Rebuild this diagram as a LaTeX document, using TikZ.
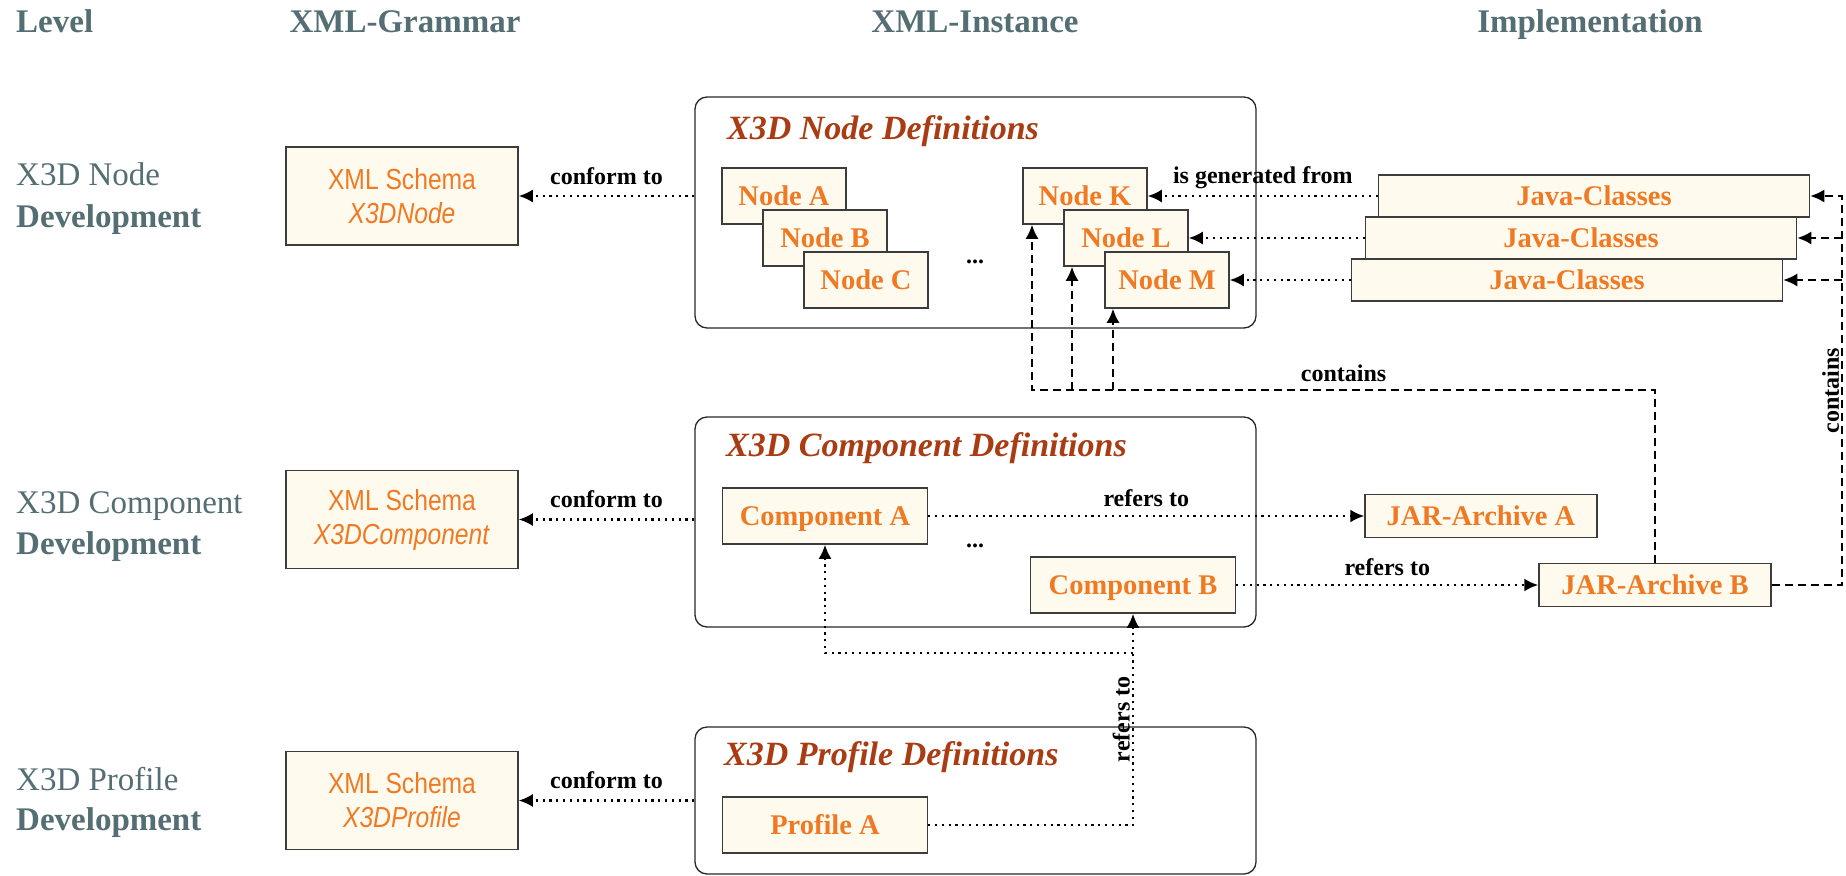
\documentclass[tikz,border=0pt]{standalone}
\usepackage{fontspec}
\setmainfont{Liberation Serif}
\newfontfamily\narrowsans[FakeStretch=0.85]{Liberation Sans}
\usepackage{tikz}
\usetikzlibrary{arrows.meta}

\definecolor{slate}{RGB}{84,110,115}
\definecolor{boxfill}{RGB}{255,250,238}
\definecolor{boxtext}{RGB}{240,122,36}
\definecolor{titlebrown}{RGB}{170,60,20}
\definecolor{boxline}{RGB}{60,60,60}

\tikzset{
	header/.style={text=slate, font=\fontsize{33}{36}\selectfont\bfseries, inner sep=0pt},
	levelname/.style={text=slate, font=\fontsize{33}{36}\selectfont, inner sep=0pt},
	schema/.style={draw=boxline, fill=boxfill, line width=1.5pt, minimum width=232pt, minimum height=98pt, text=boxtext, font=\narrowsans\fontsize{29}{34}\selectfont, align=center, inner sep=0pt},
	itembox/.style={draw=boxline, fill=boxfill, line width=1.5pt, minimum height=56pt, text=boxtext, font=\fontsize{28.5}{30}\selectfont\bfseries, text height=19pt, text depth=0pt, inner sep=0pt},
	groupbox/.style={draw=black!85, line width=1.3pt, rounded corners=12pt, inner sep=0pt},
	grouptitle/.style={text=titlebrown, font=\fontsize{34}{36}\selectfont\bfseries\itshape, inner sep=0pt},
	lbl/.style={font=\fontsize{24}{26}\selectfont\bfseries, inner sep=2pt},
	dotarrow/.style={-{Latex[length=14pt,width=13pt]}, line width=2.2pt, dash pattern=on 2.2pt off 4.6pt},
	dasharrow/.style={-{Latex[length=14pt,width=13pt]}, line width=2pt, dash pattern=on 8pt off 5pt}
}

\begin{document}
\begin{tikzpicture}[x=1pt, y=-1pt]
		\useasboundingbox (0,0) rectangle (1846,875);
		
		\node [header, anchor=base west] (hlevel) at (16,33) {Level};
		\node [header, anchor=base] (hgrammar) at (405,33) {XML-Grammar};
		\node [header, anchor=base] (hinstance) at (975,33) {XML-Instance};
		\node [header, anchor=base] (himpl) at (1590,33) {Implementation};
		
		\node [levelname, anchor=base west] (lvnode) at (16,185) {X3D Node};
		\node [levelname, anchor=base west] (lvnodedev) at (16,227) {\bfseries Development};
		\node [levelname, anchor=base west] (lvcomp) at (16,513) {X3D Component};
		\node [levelname, anchor=base west] (lvcompdev) at (16,554) {\bfseries Development};
		\node [levelname, anchor=base west] (lvprof) at (16,790) {X3D Profile};
		\node [levelname, anchor=base west] (lvprofdev) at (16,830) {\bfseries Development};
		
		\node [schema] (schemanode) at (402,196) {XML Schema\\\textit{X3DNode}};
		\node [schema] (schemacomp) at (402,519.5) {XML Schema\\\textit{X3DComponent}};
		\node [schema] (schemaprof) at (402,800.5) {XML Schema\\\textit{X3DProfile}};
		
		\node [groupbox, minimum width=561pt, minimum height=231pt] (nodedefs) at (975.5,212.5) {};
		\node [groupbox, minimum width=561pt, minimum height=210pt] (compdefs) at (975.5,522) {};
		\node [groupbox, minimum width=561pt, minimum height=147pt] (profdefs) at (975.5,800.5) {};
		\node [grouptitle, anchor=base west] (nodetitle) at (727,139) {X3D Node Definitions};
		\node [grouptitle, anchor=base west] (comptitle) at (726,456) {X3D Component Definitions};
		\node [grouptitle, anchor=base west] (proftitle) at (724,765) {X3D Profile Definitions};
		
		\node [itembox, minimum width=124pt] (nodeA) at (784,196) {Node A};
		\node [itembox, minimum width=124pt] (nodeB) at (825,238) {Node B};
		\node [itembox, minimum width=124pt] (nodeC) at (866,280) {Node C};
		\node [lbl, anchor=base] (nodedots) at (975,263) {...};
		\node [itembox, minimum width=124pt] (nodeK) at (1085,196) {Node K};
		\node [itembox, minimum width=124pt] (nodeL) at (1126,238) {Node L};
		\node [itembox, minimum width=124pt] (nodeM) at (1167,280) {Node M};
		
		\node [itembox, minimum width=431pt, minimum height=42pt] (java1) at (1594,196) {Java-Classes};
		\node [itembox, minimum width=431pt, minimum height=42pt] (java2) at (1581,238) {Java-Classes};
		\node [itembox, minimum width=431pt, minimum height=42pt] (java3) at (1567,280) {Java-Classes};
		
		\node [itembox, minimum width=205pt] (compA) at (825,516) {Component A};
		\node [lbl, anchor=base] (compdots) at (975,547) {...};
		\node [itembox, minimum width=205pt] (compB) at (1133,585) {Component B};
		\node [itembox, minimum width=232pt, minimum height=43pt] (jarA) at (1481,516) {JAR-Archive A};
		\node [itembox, minimum width=232pt, minimum height=43pt] (jarB) at (1655,585) {JAR-Archive B};
		
		\node [itembox, minimum width=205pt] (profA) at (825,825) {Profile A};
		
		\draw [dotarrow] (nodedefs.west |- schemanode.east) -- (schemanode.east) node [lbl, midway, above=8.5pt] {conform to};
		\draw [dotarrow] (compdefs.west |- schemacomp.east) -- (schemacomp.east) node [lbl, midway, above=8.5pt] {conform to};
		\draw [dotarrow] (profdefs.west |- schemaprof.east) -- (schemaprof.east) node [lbl, midway, above=8.5pt] {conform to};
		
		\draw [dotarrow] (java1.west) -- (nodeK.east) node [lbl, midway, above=4pt] {is generated from};
		\draw [dotarrow] (java2.west) -- (nodeL.east);
		\draw [dotarrow] (java3.west) -- (nodeM.east);
		
		\draw [dotarrow] (compA.east) -- (jarA.west) node [lbl, midway, above=6pt] {refers to};
		\draw [dotarrow] (compB.east) -- (jarB.west) node [lbl, midway, above=6pt] {refers to};
		\draw [dotarrow] (profA.east) -| (compB.south) node [lbl, pos=0.75, rotate=90, anchor=south] {refers to};
		\coordinate (branch) at (1133,653);
		\draw [dotarrow] (branch) -| (compA.south);
		
		\coordinate (bendK) at (1032,390);
		\coordinate (bendL) at (1072,390);
		\coordinate (bendM) at (1113,390);
		\draw [dasharrow] (jarB.north) |- (bendK) node [lbl, pos=0.75, above=5pt] {contains} -- (bendK |- nodeK.south);
		\draw [dasharrow] (bendL) -- (bendL |- nodeL.south);
		\draw [dasharrow] (bendM) -- (bendM |- nodeM.south);
		
		\coordinate (bendR) at (1842,196);
		\draw [dasharrow] (jarB.east) -| (bendR) node [lbl, pos=0.75, rotate=90, anchor=south] {contains} -- (java1.east);
		\draw [dasharrow] (bendR |- java2.east) -- (java2.east);
		\draw [dasharrow] (bendR |- java3.east) -- (java3.east);
\end{tikzpicture}
\end{document}
